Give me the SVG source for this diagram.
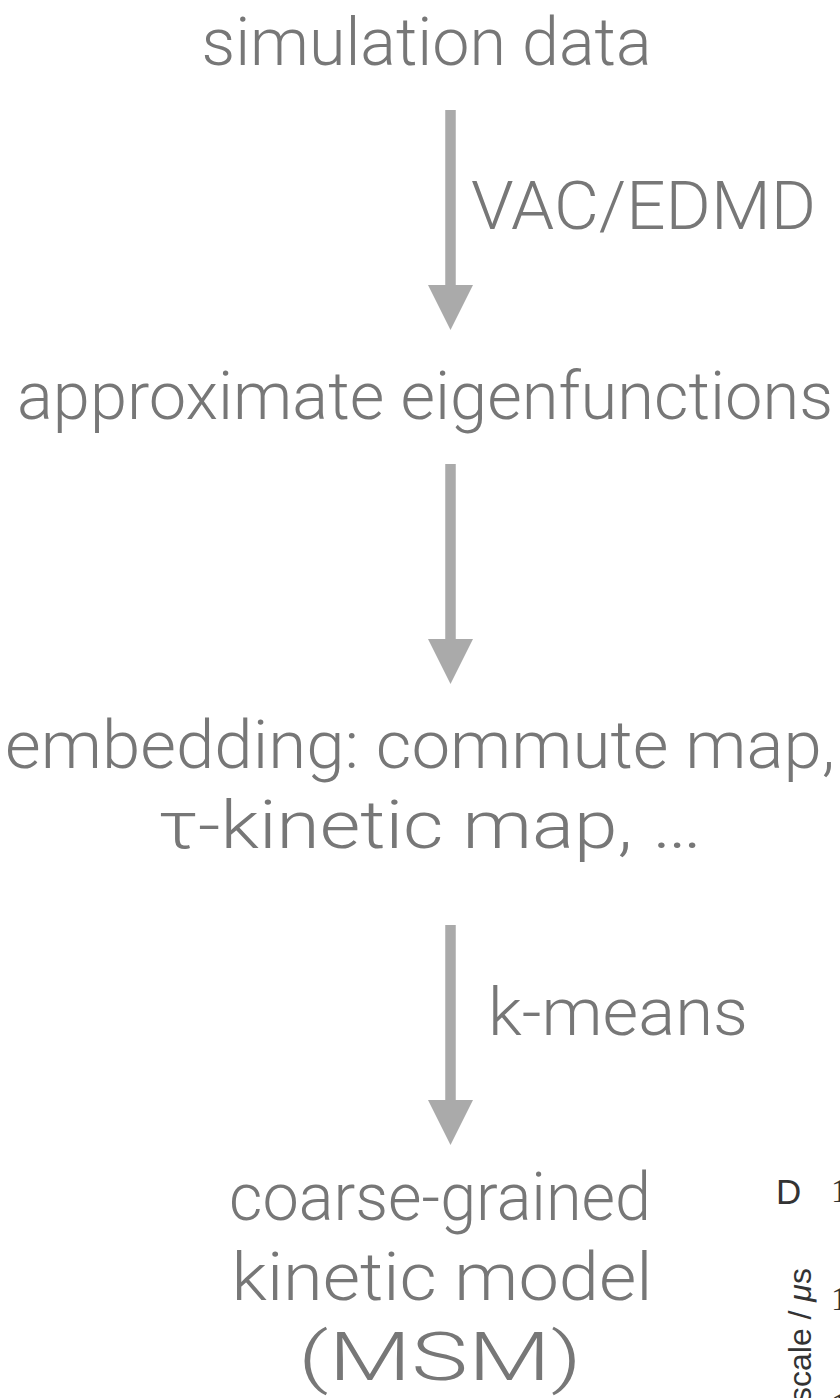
<svg xmlns="http://www.w3.org/2000/svg" width="840" height="1398" viewBox="0 0 840 1398">
  <style>
    .label { font-family: Roboto, "Liberation Sans", Arial, sans-serif; font-weight: 300; font-size: 67px; fill: #777777; }
    .mid { text-anchor: middle; }
    .flow { stroke: #aaaaaa; stroke-width: 10.5; fill: none; }
    .panel { font-family: "Liberation Sans", Arial, sans-serif; fill: #333333; }
    .tick { font-family: "Liberation Serif", "Times New Roman", serif; fill: #333333; font-size: 34px; }
  </style>
  <defs>
    <!-- solid triangular head; base sits 40px before the reference point's tip -->
    <marker id="head" viewBox="0 0 45 45" markerWidth="45" markerHeight="45" markerUnits="userSpaceOnUse" refX="5" refY="22.5" orient="auto">
      <path d="M0,0 L45,22.5 L0,45 Z" fill="#aaaaaa"/>
    </marker>
  </defs>

  <rect width="840" height="1398" fill="#ffffff"/>

  <!-- connectors -->
  <g id="connectors">
    <line class="flow" x1="450.5" y1="110" x2="450.5" y2="290" marker-end="url(#head)"/>
    <line class="flow" x1="450.5" y1="464" x2="450.5" y2="644" marker-end="url(#head)"/>
    <line class="flow" x1="450.5" y1="925" x2="450.5" y2="1105" marker-end="url(#head)"/>
    <text class="label" x="471" y="229" textLength="345" lengthAdjust="spacingAndGlyphs">VAC/EDMD</text>
    <text class="label" x="488" y="1035" textLength="260" lengthAdjust="spacingAndGlyphs">k-means</text>
  </g>

  <g id="node-simulation-data">
    <text class="label mid" x="426.5" y="65" textLength="450" lengthAdjust="spacingAndGlyphs">simulation data</text>
  </g>

  <g id="node-eigenfunctions">
    <text class="label mid" x="425" y="419" textLength="816" lengthAdjust="spacingAndGlyphs">approximate eigenfunctions</text>
  </g>

  <g id="node-embedding">
    <text class="label mid" x="420" y="768" textLength="830" lengthAdjust="spacingAndGlyphs">embedding: commute map,</text>
    <text class="label mid" x="430" y="848" textLength="544" lengthAdjust="spacingAndGlyphs">τ-kinetic map, …</text>
  </g>

  <g id="node-msm">
    <text class="label mid" x="440" y="1220" textLength="422" lengthAdjust="spacingAndGlyphs">coarse-grained</text>
    <text class="label mid" x="442" y="1300" textLength="421" lengthAdjust="spacingAndGlyphs">kinetic model</text>
    <text class="label mid" x="440" y="1380" textLength="284" lengthAdjust="spacingAndGlyphs">(MSM)</text>
  </g>

  <!-- edge of the neighbouring plot panel -->
  <g id="panel-d">
    <text class="panel" x="776" y="1204" font-size="35">D</text>
    <text class="tick" x="831" y="1202">1</text>
    <text class="tick" x="831" y="1310">1</text>
    <text class="tick" x="831" y="1416">1</text>
    <text class="panel" font-size="32" transform="translate(811,1403) rotate(-90)">scale / <tspan font-style="italic">μ</tspan>s</text>
  </g>
</svg>
